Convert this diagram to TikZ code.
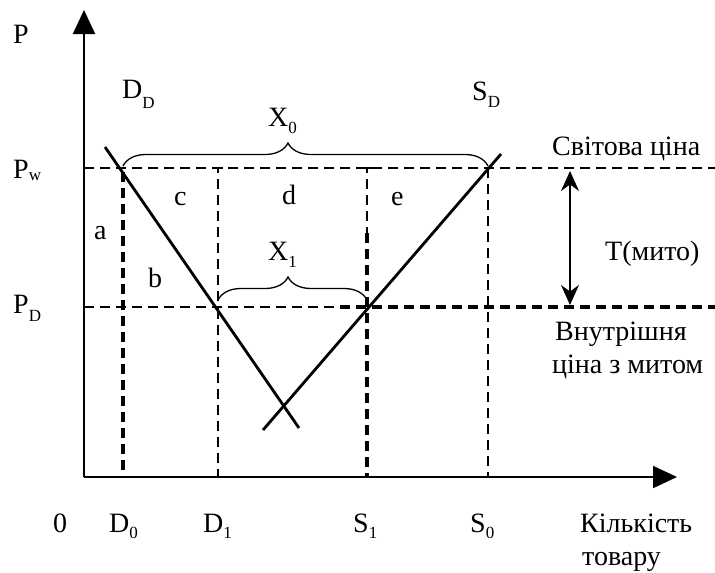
\documentclass[tikz,border=0pt]{standalone}
\usepackage{fontspec}
\setmainfont{Liberation Serif}
\usetikzlibrary{arrows.meta,decorations.pathreplacing}
\newcommand\lsub[2][7pt]{\raisebox{-#1}{\fontsize{17}{17}\selectfont #2}}
\begin{document}
\begin{tikzpicture}[x=1pt,y=-1pt,
  lbl/.style={anchor=base west, inner sep=0pt, font=\fontsize{28}{32}\selectfont},
  thindash/.style={line width=1.4pt, dash pattern=on 10pt off 6pt},
  bolddash/.style={line width=3.2pt, dash pattern=on 10pt off 6pt},
  curveline/.style={line width=2.8pt},
  axisline/.style={line width=2pt},
  bracket/.style={line width=1.3pt, decorate, decoration={brace, amplitude=23pt, aspect=#1}},
  tip/.style={-{Triangle[length=24pt,width=22pt]}},
  dbl/.style={{Stealth[length=20pt,width=18pt]}-{Stealth[length=20pt,width=18pt]}, line width=1.5pt},
]
\useasboundingbox (0,0) rectangle (715,573);
% axes
\coordinate (O) at (84,477);
\coordinate (Ytop) at (84,10);
\coordinate (Xend) at (677,477);
\draw[axisline,tip] (O) -- (Ytop);
\draw[axisline,tip] (O) -- (Xend);
% price lines
\coordinate (PwL) at (84,168);
\coordinate (PwR) at (715,168);
\coordinate (PDL) at (84,307);
\coordinate (PDM) at (340,307);
\coordinate (PDR) at (715,307);
\draw[thindash] (PwL) -- (PwR);
\draw[thindash] (PDL) -- (PDM);
\draw[bolddash] (PDM) -- (PDR);
% vertical quantity lines
\coordinate (D0t) at (123,172);
\coordinate (D0b) at (123,477);
\draw[bolddash] (D0t) -- (D0b);
\coordinate (D1c) at (223,168);
\coordinate (D1t) at (218,168);
\coordinate (D1m) at (218,309);
\coordinate (D1b) at (218,477);
\draw[thindash] (D1c) -- (D1t) -- (D1m);
\draw[bolddash, line width=2.6pt] (D1m) -- (D1b);
\coordinate (S1c) at (372,168);
\coordinate (S1t) at (367,168);
\coordinate (S1m) at (367,233);
\coordinate (S1b) at (367,477);
\draw[thindash] (S1c) -- (S1t) -- (S1m);
\draw[bolddash] (S1m) -- (S1b);
\coordinate (S0t) at (488,168);
\coordinate (S0b) at (488,477);
\draw[thindash] (S0t) -- (S0b);
% demand and supply
\coordinate (DDa) at (105,147);
\coordinate (DDb) at (299,428);
\coordinate (SDa) at (263,430);
\coordinate (SDb) at (501,154);
\draw[curveline] (DDa) -- (DDb);
\draw[curveline] (SDa) -- (SDb);
% braces
\coordinate (X0a) at (123,166);
\coordinate (X0b) at (488,166);
\draw[bracket=0.452] (X0a) -- (X0b);
\coordinate (X1a) at (218,300);
\coordinate (X1b) at (367,300);
\draw[bracket=0.47] (X1a) -- (X1b);
% tariff arrow
\coordinate (Tt) at (570,171);
\coordinate (Tb) at (570,305);
\draw[dbl] (Tt) -- (Tb);
% labels
\node[lbl] (lP) at (13,43) {P};
\node[lbl] (lPw) at (13,178) {P\lsub[2pt]{w}};
\node[lbl] (lPD) at (13,313) {P\lsub[8pt]{D}};
\node[lbl] (lDD) at (122,98) {D\lsub[10pt]{D}};
\node[lbl] (lSD) at (472,100) {S\lsub[7pt]{D}};
\node[lbl] (lX0) at (268,126) {X\lsub{0}};
\node[lbl] (lX1) at (268,260) {X\lsub{1}};
\node[lbl] (la) at (94,239) {a};
\node[lbl] (lb) at (148,287) {b};
\node[lbl] (lc) at (174,205) {c};
\node[lbl] (ld) at (282,204) {d};
\node[lbl] (le) at (391,205) {e};
\node[lbl] (lworld) at (552,155) {Світова ціна};
\node[lbl] (lT) at (605,260) {T(мито)};
\node[lbl] (lin1) at (555,340) {Внутрішня};
\node[lbl] (lin2) at (552,373) {ціна з митом};
\node[lbl] (l0) at (53,532) {0};
\node[lbl] (lD0) at (109,532) {D\lsub[6pt]{0}};
\node[lbl] (lD1) at (203,532) {D\lsub[6pt]{1}};
\node[lbl] (lS1) at (353,532) {S\lsub[6pt]{1}};
\node[lbl] (lS0) at (470,532) {S\lsub[6pt]{0}};
\node[lbl] (lq1) at (580,532) {Кількість};
\node[lbl] (lq2) at (582,565) {товару};
\end{tikzpicture}
\end{document}
